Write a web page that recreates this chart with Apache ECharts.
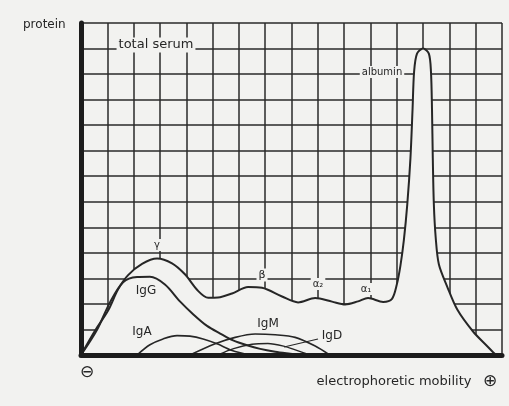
<!DOCTYPE html>
<html>
<head>
<meta charset="utf-8">
<script src="https://cdn.jsdelivr.net/npm/echarts@6/dist/echarts.min.js"></script>
<style>
  html, body { margin: 0; padding: 0; background: #f2f2f0; }
  #chart { width: 509px; height: 406px; }
</style>
</head>
<body>
<div id="chart"></div>
<script>
// grid units: x = 16 cells of mobility, y = 13 cells of protein
const totalSerum = [
  [0, 0], [0.53, 0.95], [1.03, 1.74], [1.41, 2.57], [1.79, 3.13], [2.32, 3.57],
  [2.89, 3.78], [3.46, 3.59], [3.95, 3.16], [4.45, 2.51], [4.83, 2.24], [5.21, 2.25],
  [5.74, 2.41], [6.35, 2.66], [6.88, 2.63], [7.64, 2.29], [8.25, 2.06], [8.9, 2.23],
  [9.54, 2.09], [10.04, 1.98], [10.53, 2.1], [10.91, 2.23], [11.48, 2.08], [11.82, 2.2],
  [12.0, 2.75], [12.14, 3.5], [12.27, 4.5], [12.4, 5.9], [12.52, 7.7], [12.6, 9.6],
  [12.66, 11.1], [12.77, 11.8], [13.0, 12.0], [13.22, 11.8], [13.3, 11.1], [13.34, 9.6],
  [13.37, 7.7], [13.41, 5.9], [13.48, 4.6], [13.6, 3.55], [13.92, 2.67], [14.3, 1.78],
  [14.9, 0.92], [15.44, 0.34], [15.67, 0.1], [15.78, 0]
]
const igG = [
  [0, 0], [0.61, 0.99], [1.1, 2.06], [1.6, 2.85], [2.13, 3.05], [2.62, 3.06],
  [3.19, 2.76], [3.76, 2.1], [4.26, 1.6], [4.79, 1.14], [5.29, 0.84], [5.78, 0.57],
  [6.31, 0.38], [6.81, 0.24], [7.38, 0.13], [7.95, 0.05], [8.33, 0]
]
const igA = [
  [2.13, 0], [2.62, 0.4], [3.12, 0.63], [3.65, 0.76], [4.14, 0.74], [4.64, 0.63],
  [5.17, 0.44], [5.74, 0.18], [6.43, 0]
]
const igM = [
  [4.14, 0], [5.1, 0.44], [5.86, 0.69], [6.62, 0.82], [7.38, 0.79], [8.14, 0.69],
  [8.9, 0.35], [9.45, 0]
]
const igD = [
  [5.2, 0], [5.8, 0.25], [6.5, 0.42], [7.1, 0.45], [7.7, 0.35], [8.2, 0.18], [8.7, 0]
]

const paper = '#f2f2f0'
const ink = '#262626'
const font = 'DejaVu Sans'

const chart = echarts.init(document.getElementById('chart'))

function curve(name, data, extra) {
  return Object.assign({
    name: name,
    type: 'line',
    data: data,
    smooth: 0.3,
    symbol: 'none',
    xAxisIndex: 0,
    yAxisIndex: 0,
    lineStyle: { color: ink, width: 2 }
  }, extra || {})
}

function label(text, x, y, size, align) {
  return {
    type: 'text',
    x: x,
    y: y,
    z: 100,
    style: {
      text: text,
      font: size + 'px "' + font + '"',
      fill: ink,
      align: align || 'center',
      verticalAlign: 'middle',
      backgroundColor: paper,
      padding: [1, 2]
    }
  }
}

chart.setOption({
  backgroundColor: paper,
  animation: false,
  grid: { left: 81, right: 7, top: 23, bottom: 51 },
  xAxis: [
    {
      type: 'value', min: 0, max: 16, interval: 1,
      axisLine: { show: false }, axisTick: { show: false }, axisLabel: { show: false },
      splitLine: { lineStyle: { color: '#2a2a2a', width: 1.5 } }
    },
    {
      type: 'value', min: 0, max: 16, position: 'bottom', z: 10,
      axisLine: { show: true, onZero: false, lineStyle: { color: '#1c1c1c', width: 5 } },
      axisTick: { show: false }, axisLabel: { show: false }, splitLine: { show: false }
    }
  ],
  yAxis: [
    {
      type: 'value', min: 0, max: 13, interval: 1,
      axisLine: { show: false }, axisTick: { show: false }, axisLabel: { show: false },
      splitLine: { lineStyle: { color: '#2a2a2a', width: 1.5 } }
    },
    {
      type: 'value', min: 0, max: 13, position: 'left', z: 10,
      axisLine: { show: true, onZero: false, lineStyle: { color: '#1c1c1c', width: 5 } },
      axisTick: { show: false }, axisLabel: { show: false }, splitLine: { show: false }
    }
  ],
  series: [
    curve('total serum', totalSerum, { areaStyle: { color: paper, opacity: 1 }, z: 3 }),
    curve('IgG', igG, { z: 4 }),
    curve('IgA', igA, { z: 4, lineStyle: { color: ink, width: 1.6 } }),
    curve('IgM', igM, { z: 4, lineStyle: { color: ink, width: 1.6 } }),
    curve('IgD', igD, { z: 4, lineStyle: { color: ink, width: 1.4 } })
  ],
  graphic: [
    label('protein', 21, 25, 12, 'left'),
    label('total serum', 156, 45, 13),
    label('albumin', 382, 72, 10),
    label('γ', 157, 245, 10),
    label('IgG', 146, 291, 12),
    label('β', 262, 275, 11),
    label('α₂', 318, 284, 10),
    label('α₁', 366, 289, 10),
    label('IgA', 142, 332, 12),
    label('IgM', 268, 324, 12),
    label('IgD', 332, 336, 12),
    {
      type: 'line', z: 99,
      shape: { x1: 318, y1: 339, x2: 284, y2: 347 },
      style: { stroke: ink, lineWidth: 1.2 }
    },
    {
      type: 'text', x: 87, y: 373, z: 100,
      style: { text: '⊖', font: '17px "' + font + '"', fill: ink, align: 'center', verticalAlign: 'middle' }
    },
    {
      type: 'text', x: 394, y: 382, z: 100,
      style: { text: 'electrophoretic mobility', font: '13px "' + font + '"', fill: ink, align: 'center', verticalAlign: 'middle' }
    },
    {
      type: 'text', x: 490, y: 382, z: 100,
      style: { text: '⊕', font: '17px "' + font + '"', fill: ink, align: 'center', verticalAlign: 'middle' }
    }
  ]
})
</script>
</body>
</html>
